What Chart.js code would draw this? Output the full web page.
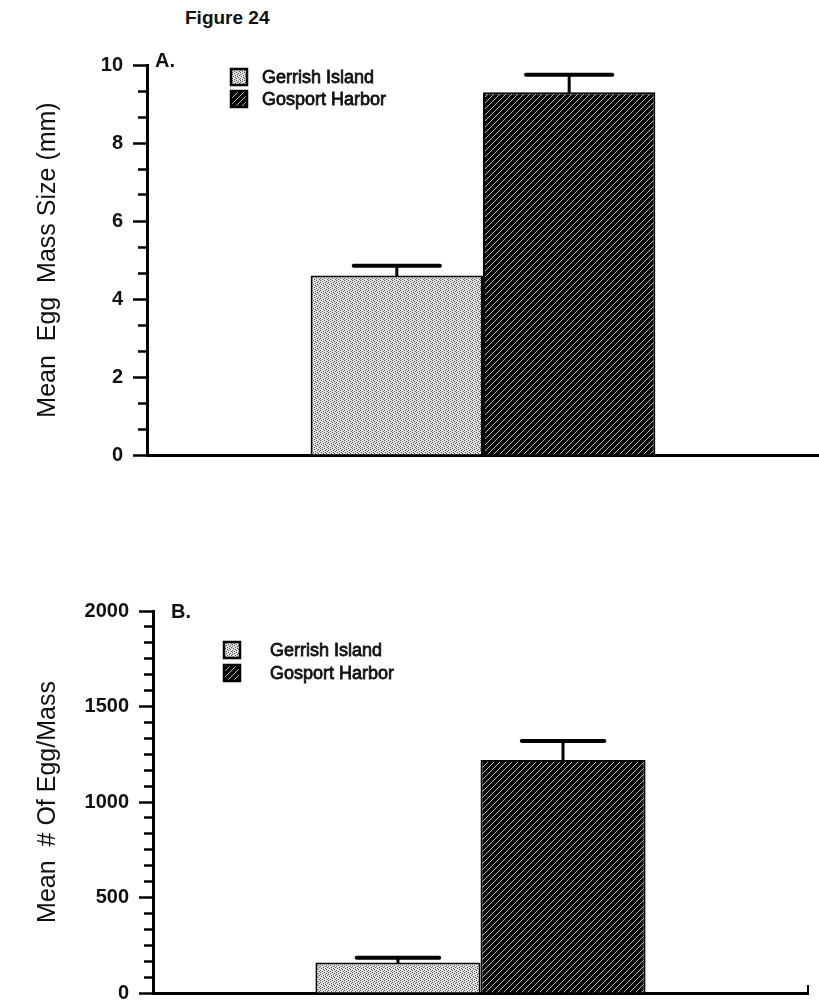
<!DOCTYPE html>
<html>
<head>
<meta charset="utf-8">
<script src="https://cdn.jsdelivr.net/npm/chart.js@4.4.1/dist/chart.umd.min.js"></script>
<style>
  html, body { margin: 0; padding: 0; background: #fff; }
  body { width: 819px; height: 1004px; position: relative; overflow: hidden; font-family: 'Liberation Sans', Arial, sans-serif; }
  #titulo { position: absolute; left: 185px; top: 7px; font-size: 19px; font-weight: bold; color: #111; }
  canvas { position: absolute; left: 0; }
  #chartA { top: 0; }
  #chartB { top: 500px; }
</style>
</head>
<body>
<div id="titulo">Figure 24</div>
<canvas id="chartA" width="819" height="490"></canvas>
<canvas id="chartB" width="819" height="504"></canvas>
<script>
const sites = ['Gerrish Island', 'Gosport Harbor'];

// painel A - tamanho médio da massa de ovos (mm)
const sizeMeans = [4.6, 9.3];
const sizeErrors = [0.25, 0.45];
const sizeTicks = [0, 2, 4, 6, 8, 10];

// painel B - número médio de ovos por massa
const countMeans = [160, 1220];
const countErrors = [25, 100];
const countTicks = [0, 500, 1000, 1500, 2000];

Chart.defaults.font.family = "'Liberation Sans', Arial, sans-serif";
Chart.defaults.color = '#111';

// padrões de preenchimento: pontilhado cinza e hachura diagonal
function pontilhado() {
    const c = document.createElement('canvas');
    c.width = 8; c.height = 8;
    const g = c.getContext('2d');
    g.fillStyle = '#e0e0e0';
    g.fillRect(0, 0, 8, 8);
    g.fillStyle = '#585858';
    const pontos = [[0, 0], [4, 0], [2, 1], [6, 1], [0, 2], [5, 2], [3, 3], [7, 3],
                    [1, 4], [5, 4], [3, 5], [6, 5], [0, 6], [4, 6], [2, 7], [7, 7]];
    pontos.forEach(p => g.fillRect(p[0], p[1], 1, 1));
    return g.createPattern(c, 'repeat');
}

function hachura() {
    const c = document.createElement('canvas');
    c.width = 6; c.height = 6;
    const g = c.getContext('2d');
    g.fillStyle = '#080808';
    g.fillRect(0, 0, 6, 6);
    g.strokeStyle = '#cfcfcf';
    g.lineWidth = 0.9;
    g.beginPath();
    g.moveTo(-1, 7); g.lineTo(7, -1);
    g.moveTo(-1, 1); g.lineTo(1, -1);
    g.moveTo(5, 7); g.lineTo(7, 5);
    g.stroke();
    return g.createPattern(c, 'repeat');
}

const padroes = [pontilhado(), hachura()];

// barras de erro, legenda e letra do painel
const extrasPlugin = {
    id: 'extras',
    afterDatasetsDraw(chart, args, opts) {
        const ctx = chart.ctx;
        const area = chart.chartArea;
        const y = chart.scales.y;
        ctx.save();
        ctx.strokeStyle = '#000';
        ctx.lineCap = 'round';
        chart.data.datasets.forEach((ds, i) => {
            const bar = chart.getDatasetMeta(i).data[0];
            const topo = y.getPixelForValue(ds.data[0] + opts.errors[i]);
            const meia = bar.width / 4;
            ctx.lineWidth = 3;
            ctx.beginPath();
            ctx.moveTo(bar.x, bar.y);
            ctx.lineTo(bar.x, topo);
            ctx.stroke();
            ctx.lineWidth = 4;
            ctx.beginPath();
            ctx.moveTo(bar.x - meia, topo);
            ctx.lineTo(bar.x + meia, topo);
            ctx.stroke();
        });
        ctx.lineCap = 'butt';

        // legenda
        const lg = opts.legend;
        ctx.font = "18px 'Liberation Sans', Arial, sans-serif";
        ctx.textBaseline = 'middle';
        ctx.textAlign = 'left';
        chart.data.datasets.forEach((ds, i) => {
            const bx = area.left + lg.x;
            const cy = area.top + lg.y + i * lg.gap;
            ctx.fillStyle = ds.backgroundColor;
            ctx.fillRect(bx, cy - 8, 16, 16);
            ctx.lineWidth = 2.5;
            ctx.strokeStyle = '#000';
            ctx.strokeRect(bx, cy - 8, 16, 16);
            ctx.fillStyle = '#111';
            ctx.strokeStyle = '#111';
            ctx.lineWidth = 0.8;
            ctx.fillText(ds.label, bx + lg.text, cy + 1);
            ctx.strokeText(ds.label, bx + lg.text, cy + 1);
        });

        // letra do painel
        ctx.font = "bold 20px 'Liberation Sans', Arial, sans-serif";
        ctx.fillText(opts.letter, area.left + opts.letterDx, area.top + opts.letterDy);

        // pequeno traço no fim do eixo x
        if (opts.endTick) {
            ctx.strokeStyle = '#000';
            ctx.lineWidth = 2;
            ctx.beginPath();
            ctx.moveTo(area.right, area.bottom);
            ctx.lineTo(area.right, area.bottom - 8);
            ctx.stroke();
        }
        ctx.restore();
    }
};

function criarGrafico(canvasId, means, errors, majors, divisoes, titulo, cfg) {
    const ctx = document.getElementById(canvasId).getContext('2d');
    return new Chart(ctx, {
        type: 'bar',
        data: {
            labels: [''],
            datasets: sites.map((s, i) => ({
                label: s,
                data: [means[i]],
                backgroundColor: padroes[i],
                borderColor: '#000',
                borderWidth: 2,
                categoryPercentage: cfg.catPct,
                barPercentage: 1.0
            }))
        },
        options: {
            responsive: false,
            animation: false,
            events: [],
            layout: { padding: cfg.padding },
            plugins: {
                legend: { display: false },
                tooltip: { enabled: false },
                extras: {
                    errors: errors,
                    letter: cfg.letter,
                    letterDx: cfg.letterDx,
                    letterDy: cfg.letterDy,
                    legend: cfg.legend,
                    endTick: cfg.endTick
                }
            },
            scales: {
                x: {
                    grid: { display: false },
                    ticks: { display: false },
                    border: { color: '#000', width: 3 },
                    afterFit: s => { s.height = 0; }
                },
                y: {
                    min: majors[0],
                    max: majors[majors.length - 1],
                    afterBuildTicks: s => {
                        // marcas menores entre cada valor principal
                        const lista = [];
                        for (let k = 0; k < majors.length - 1; k++) {
                            const passo = (majors[k + 1] - majors[k]) / divisoes;
                            for (let j = 0; j < divisoes; j++) {
                                lista.push({ value: majors[k] + j * passo, major: j === 0 });
                            }
                        }
                        lista.push({ value: majors[majors.length - 1], major: true });
                        s.ticks = lista;
                    },
                    afterFit: s => {
                        s.width = cfg.yWidth;
                        s.paddingTop = 0;
                        s.paddingBottom = 0;
                    },
                    ticks: {
                        autoSkip: false,
                        padding: 10,
                        color: '#111',
                        font: { size: 20, weight: 'bold' },
                        callback: v => majors.some(m => Math.abs(m - v) < 1e-6) ? String(v) : ''
                    },
                    grid: {
                        drawOnChartArea: false,
                        drawTicks: true,
                        tickLength: 14,
                        tickWidth: 2.5,
                        tickColor: '#000',
                        // marcas menores mais curtas, coladas ao eixo
                        tickBorderDash: c => (c.tick && c.tick.major) ? [] : [0, 5, 12, 100]
                    },
                    border: { color: '#000', width: 3 },
                    title: {
                        display: true,
                        text: titulo,
                        color: '#111',
                        font: { size: 25 },
                        padding: { top: 33, bottom: 0 }
                    }
                }
            }
        },
        plugins: [extrasPlugin]
    });
}

criarGrafico('chartA', sizeMeans, sizeErrors, sizeTicks, 3, 'Mean  Egg  Mass Size (mm)', {
    padding: { top: 65, right: 0, bottom: 35, left: 0 },
    yWidth: 147,
    catPct: 0.513,
    letter: 'A.',
    letterDx: 8,
    letterDy: -4,
    legend: { x: 84, y: 12, gap: 22, text: 31 },
    endTick: false
});

criarGrafico('chartB', countMeans, countErrors, countTicks, 6, 'Mean  # Of Egg/Mass', {
    padding: { top: 111, right: 11, bottom: 11, left: 0 },
    yWidth: 153,
    catPct: 0.504,
    letter: 'B.',
    letterDx: 18,
    letterDy: 1,
    legend: { x: 71, y: 39, gap: 23, text: 46 },
    endTick: true
});
</script>
</body>
</html>
